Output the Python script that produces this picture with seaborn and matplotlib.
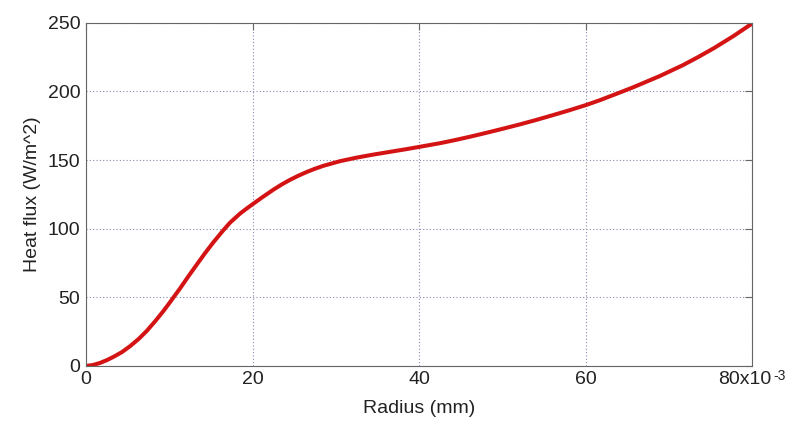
import pandas as pd
import matplotlib
matplotlib.use('Agg')
import matplotlib.pyplot as plt
from matplotlib.transforms import ScaledTranslation
import seaborn as sns

# radius in mm (axis is shown in metres with a x10^-3 label), heat flux in W/m^2
radius = [0.0, 0.8, 1.7, 2.5, 3.3, 4.3, 5.3, 6.3, 7.3, 8.3, 9.3, 10.1, 11.3,
          12.3, 13.3, 14.3, 15.3, 16.5, 17.3, 18.5, 19.3, 20.0, 21.2, 22.5,
          23.5, 24.5, 25.5, 26.5, 27.5, 28.5, 30.5, 32.5, 34.5, 36.5, 38.5,
          40.0, 42.5, 44.1, 46.1, 48.1, 50.1, 52.1, 54.1, 56.1, 58.1, 60.0,
          61.7, 64.1, 65.7, 68.9, 71.7, 73.5, 75.4, 77.8, 80.0]
heat_flux = [0.0, 0.6, 2.2, 4.2, 6.6, 10.0, 14.4, 19.5, 25.5, 32.5, 40.0, 46.5, 56.5,
             65.3, 73.8, 82.2, 90.1, 98.9, 104.4, 111.0, 114.7, 117.8, 123.0, 128.4,
             132.2, 135.6, 138.6, 141.3, 143.7, 145.8, 149.2, 151.8, 154.0, 156.0, 158.0,
             159.6, 162.3, 164.3, 167.0, 169.9, 172.9, 176.0, 179.3, 182.8, 186.4, 190.0,
             193.6, 199.2, 203.0, 211.2, 219.2, 225.0, 231.5, 240.5, 249.5]

x_ticks = [0, 20, 40, 60, 80]
x_tick_labels = ['0', '20', '40', '60', '80x10']
x_exponent = '-3'
y_ticks = [0, 50, 100, 150, 200, 250]

df = pd.DataFrame({'radius': [r * 1e-3 for r in radius], 'flux': heat_flux})

sns.set_style('white')
plt.rcParams['font.family'] = ['Liberation Sans', 'DejaVu Sans']

fig = plt.figure(figsize=(8, 4.32), dpi=100)
ax = fig.add_axes([0.1075, 0.153, 0.8325, 0.794])

sns.lineplot(data=df, x='radius', y='flux', ax=ax, color='#d41414', linewidth=2.9)

ax.set_xlim(0, 0.08)
ax.set_ylim(0, 250)
ax.set_xticks([t * 1e-3 for t in x_ticks])
ax.set_xticklabels(x_tick_labels)
ax.set_yticks(y_ticks)

ax.grid(True, linestyle=(0, (1, 2)), color='#8a8ab0', linewidth=0.8)
for s in ax.spines.values():
    s.set_color('#666666')
    s.set_linewidth(0.8)
ax.tick_params(direction='in', length=5, color='#666666', labelsize=14,
               labelcolor='#222222', top=True, right=True, pad=4)

# MATLAB style exponent on the last x tick
last = ax.get_xticklabels()[-1]
last.set_transform(last.get_transform() + ScaledTranslation(-7 / 100, 0, fig.dpi_scale_trans))
ax.annotate(x_exponent, xy=(x_ticks[-1] * 1e-3, 0), xycoords=('data', 'axes fraction'),
            xytext=(15.5, -2), textcoords='offset points', ha='left', va='top',
            fontsize=10, color='#222222')

ax.set_xlabel('Radius (mm)', fontsize=14, color='#222222', labelpad=8)
ax.set_ylabel('Heat flux (W/m^2)', fontsize=14, color='#222222', labelpad=5)

fig.savefig('out.png', dpi=100)
